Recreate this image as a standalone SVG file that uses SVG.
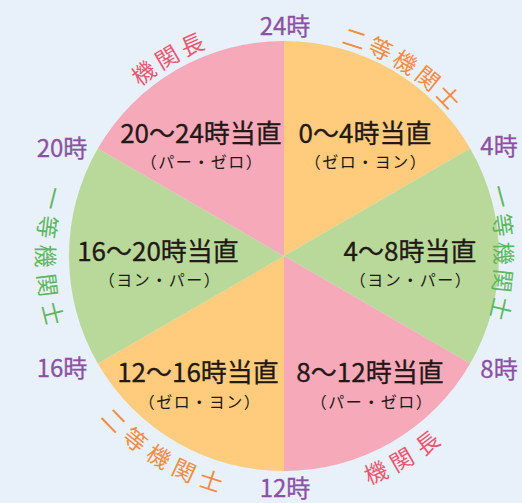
<svg xmlns="http://www.w3.org/2000/svg" width="522" height="503" viewBox="0 0 522 503">
<style>
.bg{fill:#E8F1FA}
.pink{fill:#F5A9B9}
.orange{fill:#FECC7C}
.green{fill:#B8D99A}
.main{font-family:"Noto Sans CJK JP","Noto Sans",sans-serif;font-size:26px;fill:#231815;text-anchor:middle;stroke:#231815;stroke-width:0.3px}
.sub{font-family:"Noto Sans CJK JP","Noto Sans",sans-serif;font-size:16px;letter-spacing:1.5px;fill:#231815;text-anchor:middle}
.hour{font-family:"Noto Sans CJK JP","Noto Sans",sans-serif;font-size:24px;fill:#8C51A3;text-anchor:middle;stroke:#8C51A3;stroke-width:0.3px}
.arc{font-family:"Noto Sans CJK JP","Noto Sans",sans-serif;font-size:23px;text-anchor:middle;dominant-baseline:central}
.cpink{fill:#EA5670}
.corange{fill:#F28C3E}
.cgreen{fill:#5DB75F}
</style>
<rect class="bg" x="0" y="0" width="522" height="503"/>
<g id="seg-0-4"><path class="orange" d="M284,256 L284,41 A215,215 0 0 1 470.2,148.5 Z"/>
<text class="main" x="365" y="143">0〜4時当直</text><text class="sub" x="366" y="168">（ゼロ・ヨン）</text></g>
<g id="seg-4-8"><path class="green" d="M284,256 L470.2,148.5 A215,215 0 0 1 470.2,363.5 Z"/>
<text class="main" x="410" y="261">4〜8時当直</text><text class="sub" x="411" y="286">（ヨン・パー）</text></g>
<g id="seg-8-12"><path class="pink" d="M284,256 L470.2,363.5 A215,215 0 0 1 284,471 Z"/>
<text class="main" x="370" y="382">8〜12時当直</text><text class="sub" x="372" y="408">（パー・ゼロ）</text></g>
<g id="seg-12-16"><path class="orange" d="M284,256 L284,471 A215,215 0 0 1 97.8,363.5 Z"/>
<text class="main" x="198" y="382">12〜16時当直</text><text class="sub" x="200" y="408">（ゼロ・ヨン）</text></g>
<g id="seg-16-20"><path class="green" d="M284,256 L97.8,363.5 A215,215 0 0 1 97.8,148.5 Z"/>
<text class="main" x="158" y="261">16〜20時当直</text><text class="sub" x="160" y="286">（ヨン・パー）</text></g>
<g id="seg-20-24"><path class="pink" d="M284,256 L97.8,148.5 A215,215 0 0 1 284,41 Z"/>
<text class="main" x="201" y="143">20〜24時当直</text><text class="sub" x="202" y="168">（パー・ゼロ）</text></g>
<g id="hours">
<text class="hour" x="285" y="35">24時</text>
<text class="hour" x="499" y="155">4時</text>
<text class="hour" x="499" y="378">8時</text>
<text class="hour" x="285" y="497">12時</text>
<text class="hour" x="62" y="377">16時</text>
<text class="hour" x="62" y="157">20時</text>
</g>
<g id="label-top-left" class="arc cpink">
<text transform="translate(142.8,71.9) rotate(-37.5)">機</text>
<text transform="translate(166.3,56.1) rotate(-30.5)">関</text>
<text transform="translate(191.5,43.2) rotate(-23.5)">長</text>
</g>
<g id="label-top-right" class="arc corange">
<text transform="translate(355.1,37.2) rotate(18)">二</text>
<text transform="translate(381.2,47.6) rotate(25)">等</text>
<text transform="translate(405.9,61) rotate(32)">機</text>
<text transform="translate(428.7,77.3) rotate(39)">関</text>
<text transform="translate(449.4,96.2) rotate(46)">士</text>
</g>
<g id="label-right" class="arc cgreen">
<text transform="translate(502,196) rotate(75)">一</text>
<text transform="translate(504,225) rotate(82)">等</text>
<text transform="translate(505,253) rotate(89)">機</text>
<text transform="translate(504,281) rotate(96)">関</text>
<text transform="translate(502,309) rotate(103)">士</text>
</g>
<g id="label-left" class="arc cgreen">
<text transform="translate(54,198.7) rotate(104)">一</text>
<text transform="translate(48.8,227.1) rotate(97)">等</text>
<text transform="translate(47,256) rotate(90)">機</text>
<text transform="translate(48.8,284.9) rotate(83)">関</text>
<text transform="translate(54,313.3) rotate(76)">士</text>
</g>
<g id="label-bottom-left" class="arc corange">
<text transform="translate(115,419.3) rotate(46)">二</text>
<text transform="translate(136.1,438.6) rotate(39)">等</text>
<text transform="translate(159.5,455.3) rotate(32)">機</text>
<text transform="translate(184.7,469) rotate(25)">関</text>
<text transform="translate(211.4,479.5) rotate(18)">士</text>
</g>
<g id="label-bottom-right" class="arc cpink">
<text transform="translate(375.4,471.4) rotate(-23)">機</text>
<text transform="translate(401,458.6) rotate(-30)">関</text>
<text transform="translate(426.5,441.7) rotate(-37.5)">長</text>
</g>
</svg>
